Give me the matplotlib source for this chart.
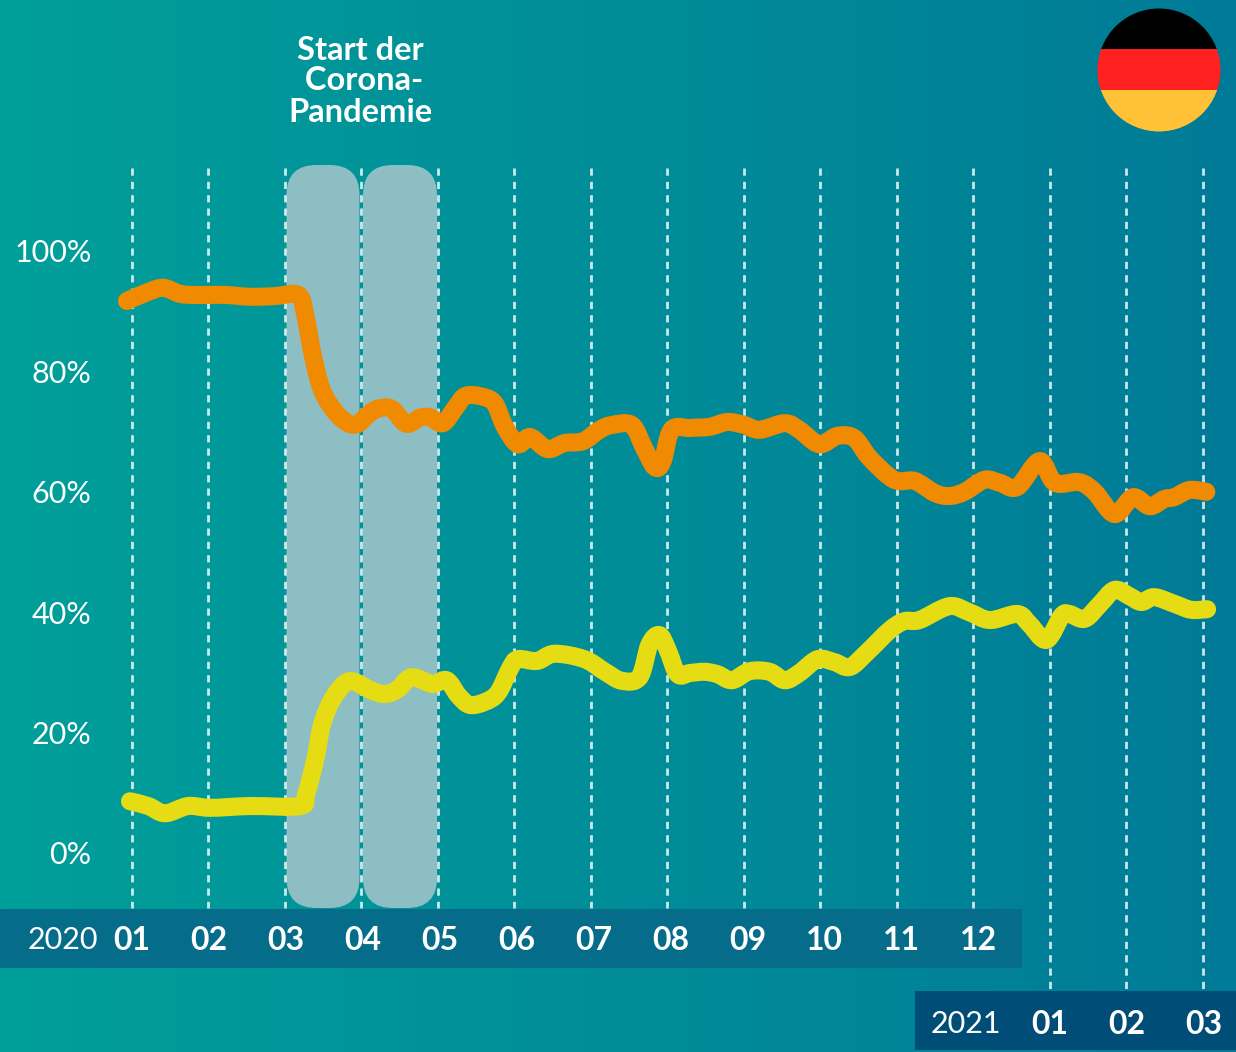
import numpy as np
import matplotlib
matplotlib.use("Agg")
import matplotlib.pyplot as plt
from matplotlib.patches import Circle, FancyBboxPatch, PathPatch, Rectangle
from matplotlib.path import Path

plt.rcParams['font.family'] = ['Lato', 'DejaVu Sans']

# Months since 2020-01 (0 = Jan 2020, 14 = Mar 2021)
orange_x = [-0.06, 0.18, 0.41, 0.63, 0.83, 1.22, 1.55, 1.87, 2.18, 2.27, 2.37, 2.49, 2.66, 2.83, 2.96, 3.09,
            3.22, 3.40, 3.59, 3.77, 3.90, 4.07, 4.23, 4.36, 4.55, 4.74, 4.88, 5.05, 5.21, 5.44, 5.66, 5.90,
            6.12, 6.28, 6.54, 6.70, 6.84, 6.94, 7.06, 7.30, 7.56, 7.79, 8.01, 8.21, 8.54, 8.73, 8.99, 9.23,
            9.45, 9.65, 9.97, 10.24, 10.50, 10.69, 10.89, 11.15, 11.35, 11.58, 11.87, 12.07, 12.39, 12.59,
            12.85, 13.09, 13.31, 13.50, 13.63, 13.83, 14.05]
orange_y = [91.7, 93.0, 93.9, 92.9, 92.7, 92.7, 92.4, 92.5, 92.7, 89.4, 82.7, 76.9, 73.3, 71.4, 71.3, 72.8,
            73.8, 73.8, 71.3, 72.3, 72.4, 71.4, 73.9, 75.9, 75.9, 74.8, 70.8, 67.9, 69.1, 67.1, 68.1, 68.4,
            70.3, 71.1, 71.1, 67.3, 64.1, 65.0, 70.3, 70.6, 70.8, 71.6, 71.1, 70.3, 71.4, 70.3, 67.9, 69.3,
            68.9, 65.6, 62.0, 61.8, 59.8, 59.3, 60.0, 62.0, 61.5, 60.8, 65.1, 61.5, 61.6, 60.0,
            56.3, 59.1, 57.6, 58.8, 59.1, 60.3, 60.0]

yellow_x = [-0.02, 0.22, 0.44, 0.74, 1.03, 1.55, 2.20, 2.28, 2.40, 2.49, 2.62, 2.79, 2.92, 3.12, 3.31, 3.48,
            3.66, 3.93, 4.12, 4.27, 4.42, 4.62, 4.79, 4.95, 5.05, 5.30, 5.53, 5.92, 6.19, 6.41, 6.64, 6.77,
            6.90, 7.01, 7.14, 7.30, 7.49, 7.66, 7.85, 8.08, 8.34, 8.54, 8.73, 8.97, 9.19, 9.39, 9.62, 9.91,
            10.10, 10.30, 10.69, 10.95, 11.22, 11.58, 11.74, 11.96, 12.16, 12.26, 12.46, 12.65, 12.85, 13.04,
            13.20, 13.37, 13.63, 13.85, 14.06]
yellow_y = [8.6, 7.8, 6.6, 7.8, 7.5, 7.8, 7.8, 9.6, 15.4, 21.3, 25.4, 28.2, 28.4, 27.1, 26.4, 27.2,
            29.2, 28.1, 28.7, 26.2, 24.6, 25.1, 26.6, 30.7, 32.2, 31.9, 33.1, 32.2, 30.1, 28.6, 29.2, 34.6,
            36.2, 33.7, 29.7, 29.9, 30.1, 29.7, 28.7, 30.2, 30.1, 28.7, 29.9, 32.2, 31.7, 30.9, 33.4, 37.0,
            38.5, 38.7, 41.0, 40.0, 38.7, 39.7, 38.0, 35.4, 39.4, 39.7, 38.9, 41.2, 43.7, 42.7,
            41.7, 42.5, 41.4, 40.4, 40.5]

y_ticks = [0, 20, 40, 60, 80, 100]
months_2020 = ['01', '02', '03', '04', '05', '06', '07', '08', '09', '10', '11', '12']
months_2021 = ['01', '02', '03']


def smooth_path(xs, ys):
    # Catmull-Rom through the read points, written as bezier segments
    pts = np.column_stack([xs, ys])
    verts = [pts[0]]
    codes = [Path.MOVETO]
    for i in range(len(pts) - 1):
        p0 = pts[max(i - 1, 0)]
        p1 = pts[i]
        p2 = pts[i + 1]
        p3 = pts[min(i + 2, len(pts) - 1)]
        verts += [p1 + (p2 - p0) / 6, p2 - (p3 - p1) / 6, p2]
        codes += [Path.CURVE4] * 3
    return Path(verts, codes)


fig = plt.figure(figsize=(12.36, 10.52), dpi=100)

# Background and decoration, in pixels
bg = fig.add_axes([0, 0, 1, 1])
bg.set_xlim(0, 1236)
bg.set_ylim(1052, 0)
bg.axis('off')

gradient = np.linspace(0, 1, 256).reshape(1, -1)
cmap = matplotlib.colors.LinearSegmentedColormap.from_list('bg', ['#009F9A', '#007B97'])
bg.imshow(gradient, extent=[0, 1236, 1052, 0], aspect='auto', cmap=cmap, zorder=0)

for left, right in [(286.5, 359.5), (363, 437)]:
    bg.add_patch(FancyBboxPatch((left + 30, 165 + 30), right - left - 60, 743 - 60,
                                boxstyle='round,pad=30,rounding_size=30',
                                fc='#8DBEC3', ec='none', zorder=1))

bg.add_patch(Rectangle((0, 909), 1022, 59, fc='#056C8A', ec='none', zorder=3))
bg.add_patch(Rectangle((915, 991), 321, 59, fc='#004E78', ec='none', zorder=3))

# Flag
flag = Circle((1159, 70), 61.5, transform=bg.transData)
for top, height, col in [(0, 49, '#000000'), (49, 41, '#FF2020'), (90, 50, '#FFC135')]:
    r = Rectangle((1090, top), 140, height, fc=col, ec='none', zorder=3)
    bg.add_patch(r)
    r.set_clip_path(flag)

# Chart axes, scaled so the data sits on the reference positions
ax = fig.add_axes([0, 0, 1, 1])
ax.patch.set_alpha(0)
ax.set_xlim(-131.5 / 76.5, (1236 - 131.5) / 76.5)
ax.set_ylim(-199 / 6.02, 853 / 6.02)
ax.axis('off')

y_top = (853 - 168) / 6.02
y_2020 = (853 - 908) / 6.02
y_2021 = (853 - 990) / 6.02
for i in range(15):
    ax.plot([i, i], [y_top, y_2020 if i < 12 else y_2021], color='white', alpha=0.8, lw=2,
            linestyle=(0, (2.6, 2.2)), dash_capstyle='butt', zorder=2)

for xs, ys, col in [(orange_x, orange_y, '#F08A00'), (yellow_x, yellow_y, '#E5DC14')]:
    ax.add_patch(PathPatch(smooth_path(xs, ys), fc='none', ec=col, lw=13,
                           capstyle='round', joinstyle='round', zorder=4))

for v in y_ticks:
    ax.text(-0.52, v - 0.4, f'{v}%', color='white', fontsize=22,
            ha='right', va='center', zorder=5)

for i, m in enumerate(months_2020):
    bg.text(131.5 + 77 * i, 940, m, color='white', fontsize=23, fontweight='bold',
            ha='center', va='center', zorder=5)
for i, m in enumerate(months_2021):
    bg.text(1049.5 + 77 * i, 1024, m, color='white', fontsize=23, fontweight='bold',
            ha='center', va='center', zorder=5)
bg.text(63, 940, '2020', color='white', fontsize=22, ha='center', va='center', zorder=5)
bg.text(966, 1024, '2021', color='white', fontsize=22, ha='center', va='center', zorder=5)

for text, py in [('Start der', 50), (' Corona-', 81), ('Pandemie', 112)]:
    bg.text(360, py, text, color='white', fontsize=23.5, fontweight='bold',
            ha='center', va='center', zorder=5)

fig.savefig('out.png', dpi=100)
